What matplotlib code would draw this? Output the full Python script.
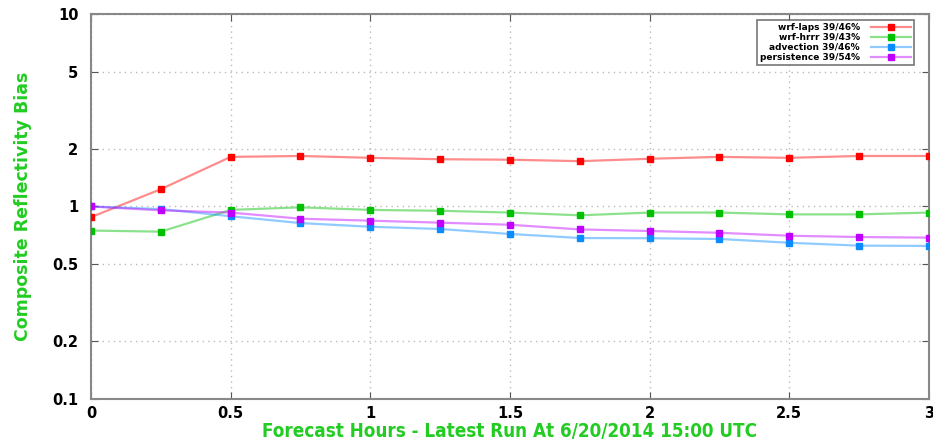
import numpy as np
import matplotlib.pyplot as plt
from matplotlib.colors import to_rgb
from matplotlib.ticker import FixedLocator, FixedFormatter, NullLocator

# data
hours = [0, 0.25, 0.5, 0.75, 1.0, 1.25, 1.5, 1.75, 2.0, 2.25, 2.5, 2.75, 3.0]
wrf_laps = [0.88, 1.23, 1.81, 1.83, 1.79, 1.76, 1.75, 1.72, 1.77, 1.81, 1.79, 1.83, 1.83]
wrf_hrrr = [0.75, 0.74, 0.96, 0.99, 0.96, 0.95, 0.93, 0.90, 0.93, 0.93, 0.91, 0.91, 0.93]
advection = [1.0, 0.97, 0.89, 0.82, 0.785, 0.764, 0.72, 0.686, 0.684, 0.678, 0.648, 0.626, 0.624]
persistence = [1.0, 0.955, 0.93, 0.864, 0.844, 0.824, 0.804, 0.76, 0.746, 0.73, 0.705, 0.694, 0.689]

labels = ['wrf-laps 39/46%', 'wrf-hrrr 39/43%', 'advection 39/46%', 'persistence 39/54%']
colores = ['#ff0000', '#00c000', '#0a8cff', '#c000ff']
series = [wrf_laps, wrf_hrrr, advection, persistence]

yticks = [0.1, 0.2, 0.5, 1, 2, 5, 10]
ytick_labels = ['0.1', '0.2', '0.5', '1', '2', '5', '10']
xticks = [0, 0.5, 1, 1.5, 2, 2.5, 3]
xtick_labels = ['0', '0.5', '1', '1.5', '2', '2.5', '3']

fig = plt.figure(figsize=(9.33, 4.46), dpi=100)
ax = fig.add_axes([0.0975, 0.1054, 0.8982, 0.8632])

handles = []
for vals, lab, col in zip(series, labels, colores):
    # linea clara + marcador solido (estilo gnuplot)
    ax.plot(hours, vals, color=col, alpha=0.45, lw=1.6, zorder=3)
    ax.plot(hours, vals, ls='none', marker='s', ms=4.5, color=col, zorder=4)
    h, = ax.plot([], [], color=(*to_rgb(col), 0.45), lw=1.6, marker='s', ms=4.5,
                 markerfacecolor=col, markeredgecolor=col, label=lab)
    handles.append(h)

ax.set_yscale('log')
ax.set_ylim(0.1, 10)
ax.set_xlim(0, 3)
ax.yaxis.set_major_locator(FixedLocator(yticks))
ax.yaxis.set_major_formatter(FixedFormatter(ytick_labels))
ax.yaxis.set_minor_locator(NullLocator())
ax.xaxis.set_major_locator(FixedLocator(xticks))
ax.xaxis.set_major_formatter(FixedFormatter(xtick_labels))

ax.grid(True, color='#bbbbbb', ls=(0, (1, 3)), lw=1.0)
ax.tick_params(direction='in', top=True, right=True, length=5, color='#555555',
               labelsize=10.5)
ax.tick_params(axis='x', pad=5)
ax.tick_params(axis='y', pad=9)
for lbl in ax.get_xticklabels() + ax.get_yticklabels():
    lbl.set_fontweight('bold')
for sp in ax.spines.values():
    sp.set_color('#888888')
    sp.set_linewidth(1.5)

ax.set_ylabel('Composite Reflectivity Bias', color='#22cc22', fontsize=12.5,
              fontweight='bold', labelpad=15)
ax.set_xlabel('Forecast Hours - Latest Run At 6/20/2014 15:00 UTC', color='#22cc22',
              fontsize=13.5, fontweight='bold', fontstretch='condensed', labelpad=1)

leg = ax.legend(handles=handles, loc='upper right', bbox_to_anchor=(0.988, 0.997),
                markerfirst=False, prop={'weight': 'bold', 'size': 6.5},
                frameon=True, fancybox=False, edgecolor='#555555',
                handlelength=4.5, borderpad=0.35, labelspacing=0.12, handletextpad=1.2)
leg.get_frame().set_linewidth(1.2)

fig.savefig('out.png', dpi=100)
